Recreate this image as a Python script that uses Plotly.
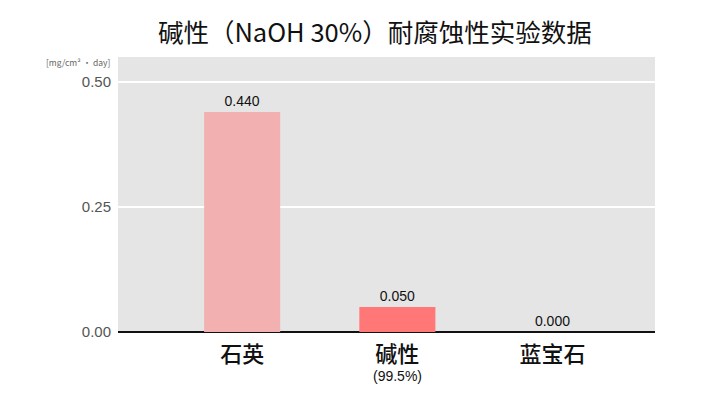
import plotly.graph_objects as go

CATEGORIES = ["石英", "碱性", "蓝宝石"]
SUBLABELS = ["", "(99.5%)", ""]
VALUES = [0.440, 0.050, 0.000]
BAR_COLORS = ["#F2B0B0", "#FF7777", "#FF7777"]
Y_TICKS = [0.0, 0.25, 0.5]
Y_TICK_LABELS = ["0.00", "0.25", "0.50"]

FONT = "Noto Sans CJK SC, Noto Sans, sans-serif"
NUM_FONT = "Liberation Sans, Arial, sans-serif"
POSITIONS = list(range(len(CATEGORIES)))

fig = go.Figure(
    go.Bar(
        x=POSITIONS,
        y=VALUES,
        width=0.49,
        marker={"color": BAR_COLORS, "line": {"width": 0}},
        text=[f"{v:.3f}" for v in VALUES],
        textposition="outside",
        textfont={"family": NUM_FONT, "size": 14, "color": "#111111"},
        cliponaxis=False,
        hoverinfo="skip",
    )
)

annotations = [
    {
        "text": "[mg/cm² · day]",
        "xref": "paper",
        "yref": "paper",
        "x": -0.011,
        "y": 0.982,
        "xanchor": "right",
        "yanchor": "middle",
        "showarrow": False,
        "font": {"size": 8.5, "color": "#666666"},
    }
]
for pos, sub in zip(POSITIONS, SUBLABELS):
    if sub:
        annotations.append(
            {
                "text": sub,
                "xref": "x",
                "yref": "paper",
                "x": pos,
                "y": -0.16,
                "yanchor": "middle",
                "showarrow": False,
                "font": {"family": NUM_FONT, "size": 14, "color": "#111111"},
            }
        )

# page body adds 8px margin, so the figure is drawn 8px smaller
fig.update_layout(
    width=696,
    height=392,
    paper_bgcolor="#FFFFFF",
    plot_bgcolor="#E5E5E5",
    font={"family": FONT, "color": "#111111"},
    margin={"l": 110, "r": 49, "t": 49, "b": 68, "autoexpand": False},
    title={
        "text": "碱性（NaOH 30%）耐腐蚀性实验数据",
        "x": 0.527,
        "xanchor": "center",
        "y": 0.936,
        "yanchor": "middle",
        "font": {"size": 25.5, "color": "#111111"},
    },
    xaxis={
        "tickmode": "array",
        "tickvals": POSITIONS,
        "ticktext": CATEGORIES,
        "range": [-0.8, 2.66],
        "showgrid": False,
        "zeroline": False,
        "ticks": "",
        "ticklabelstandoff": 7,
        "tickfont": {"size": 22, "color": "#111111", "weight": 500},
    },
    yaxis={
        "range": [0, 0.55],
        "tickmode": "array",
        "tickvals": Y_TICKS,
        "ticktext": Y_TICK_LABELS,
        "showgrid": True,
        "gridcolor": "#FFFFFF",
        "gridwidth": 1.5,
        "zeroline": True,
        "zerolinecolor": "#111111",
        "zerolinewidth": 2,
        "ticks": "",
        "ticklabelstandoff": 6,
        "tickfont": {"family": NUM_FONT, "size": 15, "color": "#555555"},
    },
    showlegend=False,
    annotations=annotations,
)

fig.write_html("out.html")
